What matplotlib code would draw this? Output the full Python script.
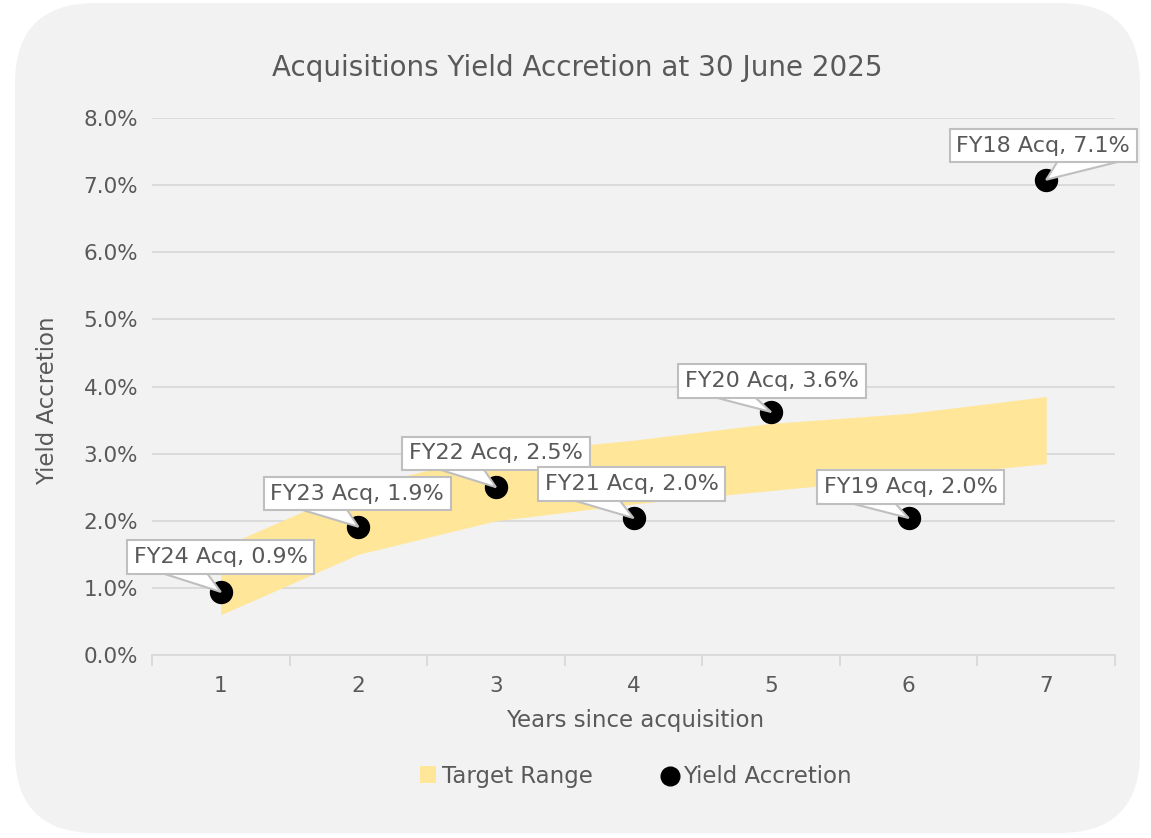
import numpy as np
import matplotlib.pyplot as plt
from matplotlib.patches import FancyBboxPatch, Polygon
from matplotlib.transforms import IdentityTransform
from matplotlib.ticker import FuncFormatter

plt.rcParams['font.family'] = ['DejaVu Sans']

# data
years = [1, 2, 3, 4, 5, 6, 7]
target_low = [0.6, 1.5, 2.0, 2.25, 2.45, 2.65, 2.85]
target_high = [1.6, 2.5, 3.0, 3.2, 3.45, 3.6, 3.85]
acq_labels = ['FY24 Acq', 'FY23 Acq', 'FY22 Acq', 'FY21 Acq', 'FY20 Acq', 'FY19 Acq', 'FY18 Acq']
accretion = [0.94, 1.91, 2.5, 2.04, 3.62, 2.04, 7.08]

# label offsets (pixels) and where the callout pointer leaves the box (fraction of width)
label_offsets = [(0, 35), (-1, 33), (0, 34), (-2, 34), (1, 31), (2, 31), (-3, 34)]
pointer_base = [(0.16, 0.42), (0.18, 0.44), (0.17, 0.43), (0.16, 0.43),
                (0.16, 0.40), (0.15, 0.41), (0.58, 0.93)]

txt = '#595959'
grid = '#d9d9d9'
edge = '#bfbfbf'

fig = plt.figure(figsize=(11.51, 8.38), dpi=100)
fig.patch.set_facecolor('white')
W, H = 1151, 838
bg = FancyBboxPatch((15 / W, 5 / H), (1140 - 15) / W, (835 - 5) / H,
                    boxstyle='round,pad=0,rounding_size=0.07', transform=fig.transFigure,
                    fc='#f2f2f2', ec='none', zorder=-10, mutation_aspect=W / H)
fig.patches.append(bg)

ax = fig.add_axes([152 / W, 1 - 655 / H, (1115 - 152) / W, (655 - 118) / H])
ax.set_facecolor('none')

ax.fill_between(years, target_low, target_high, color='#ffe699', lw=0, zorder=2, label='Target Range')
ax.scatter(years, accretion, s=250, color='black', zorder=4, label='Yield Accretion')

anns = []
for i in range(len(years)):
    a = ax.annotate(f'{acq_labels[i]}, {accretion[i]:.1f}%', xy=(years[i], accretion[i]),
                    xytext=label_offsets[i], textcoords='offset pixels',
                    ha='center', va='center', fontsize=16, color=txt, zorder=6,
                    bbox=dict(boxstyle='square,pad=0.3', fc='white', ec=edge, lw=1.5))
    anns.append(a)

ax.set_xlim(0.5, 7.5)
ax.set_ylim(0, 8)
ax.set_yticks(np.arange(0, 9, 1))
ax.yaxis.set_major_formatter(FuncFormatter(lambda v, p: f'{v:.1f}%'))
ax.set_xticks(years)
ax.set_xticks(np.arange(0.5, 8, 1), minor=True)
ax.tick_params(axis='x', which='major', length=0, pad=15, labelsize=15.5, labelcolor=txt)
ax.tick_params(axis='x', which='minor', length=8, color=grid, width=1.3)
ax.tick_params(axis='y', length=0, pad=10, labelsize=15.5, labelcolor=txt)
ax.grid(axis='y', color=grid, lw=1.3, zorder=1)
ax.set_axisbelow(True)
for s in ['top', 'right', 'left']:
    ax.spines[s].set_visible(False)
ax.spines['bottom'].set_color(grid)
ax.spines['bottom'].set_linewidth(1.3)

ax.set_xlabel('Years since acquisition', fontsize=16.5, color=txt)
ax.set_ylabel('Yield Accretion', fontsize=16.5, color=txt)
ax.xaxis.set_label_coords(0.502, (655 - 720) / 537, transform=ax.transAxes)
ax.yaxis.set_label_coords((48 - 152) / 963, (655 - 401) / 537, transform=ax.transAxes)
ax.xaxis.label.set_va('center')
ax.yaxis.label.set_va('center')
fig.text(577 / W, 1 - 68 / H, 'Acquisitions Yield Accretion at 30 June 2025',
         ha='center', va='center', fontsize=20, color=txt)

fig.legend(loc='center', bbox_to_anchor=(636 / W, 1 - 776 / H), ncol=2, frameon=False,
           fontsize=16.5, labelcolor=txt, handlelength=0.7, handletextpad=0.25,
           columnspacing=3.0, markerscale=0.85)

# callout pointers: from the box bottom to the dot
fig.canvas.draw()
r = fig.canvas.get_renderer()
for i, a in enumerate(anns):
    bb = a.get_bbox_patch().get_window_extent(r)
    tip = ax.transData.transform((years[i], accretion[i]))
    f0, f1 = pointer_base[i]
    pts = [(bb.x0 + f0 * bb.width, bb.y0 + 2), tuple(tip), (bb.x0 + f1 * bb.width, bb.y0 + 2)]
    ax.add_patch(Polygon(pts, closed=True, fc='white', ec=edge, lw=1.5,
                         transform=IdentityTransform(), zorder=5, clip_on=False))

fig.savefig('out.png', dpi=100)
